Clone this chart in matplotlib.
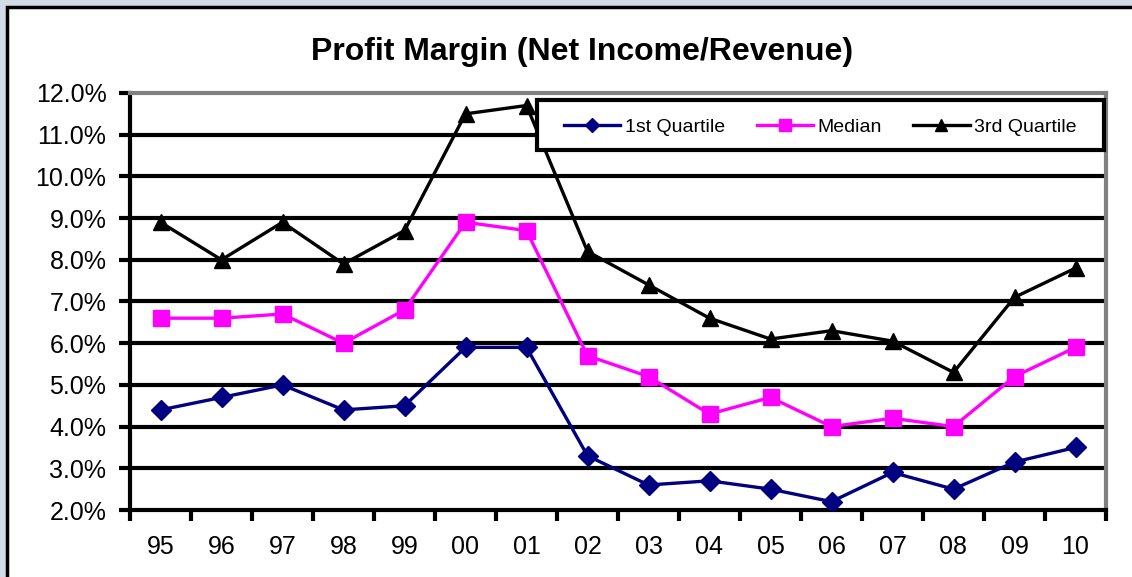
import matplotlib
matplotlib.use("Agg")
import matplotlib.pyplot as plt
from matplotlib.patches import Rectangle
from matplotlib.ticker import FuncFormatter, MultipleLocator
import numpy as np

years = ["95", "96", "97", "98", "99", "00", "01", "02", "03", "04", "05", "06", "07", "08", "09", "10"]
q1 = [4.4, 4.7, 5.0, 4.4, 4.5, 5.9, 5.9, 3.3, 2.6, 2.7, 2.5, 2.2, 2.9, 2.5, 3.15, 3.5]
median = [6.6, 6.6, 6.7, 6.0, 6.8, 8.9, 8.7, 5.7, 5.2, 4.3, 4.7, 4.0, 4.2, 4.0, 5.2, 5.9]
q3 = [8.9, 8.0, 8.9, 7.9, 8.7, 11.5, 11.7, 8.2, 7.4, 6.6, 6.1, 6.3, 6.05, 5.3, 7.1, 7.8]

plt.rcParams['font.family'] = ['Liberation Sans', 'DejaVu Sans']

W, H = 1132, 577
fig = plt.figure(figsize=(W / 100, H / 100), dpi=100)
fig.patch.set_facecolor('white')

# Spreadsheet background strip and chart frame
fig.patches.append(Rectangle((0, 0), 1, 1, transform=fig.transFigure, facecolor='#d3dbe6', edgecolor='none', zorder=-10))
fig.patches.append(Rectangle((7 / W, -0.1), 1.2, 1 - 7 / H + 0.1, transform=fig.transFigure,
                             facecolor='white', edgecolor='black', linewidth=2.5, zorder=-9))

left, right, top, bottom = 130, 1106, 93, 510
ax = fig.add_axes([left / W, 1 - bottom / H, (right - left) / W, (bottom - top) / H])

x = np.arange(len(years))
ax.plot(x, q1, color='#000080', marker='D', markersize=10.5, linewidth=2.4, label='1st Quartile', zorder=3)
ax.plot(x, median, color='#ff00ff', marker='s', markersize=12, linewidth=2.4, label='Median', zorder=3)
ax.plot(x, q3, color='black', marker='^', markersize=12, linewidth=2.4, label='3rd Quartile', zorder=3)

ax.set_xlim(-0.5, len(years) - 0.5)
ax.set_ylim(2, 12)
ax.yaxis.set_major_locator(MultipleLocator(1))
ax.yaxis.set_major_formatter(FuncFormatter(lambda v, p: f"{v:.1f}%"))
ax.set_xticks(np.arange(-0.5, len(years) - 0.4, 1))
ax.set_xticklabels([])
ax.set_xticks(x, minor=True)
ax.set_xticklabels(years, minor=True)
ax.tick_params(axis='x', which='minor', length=0, pad=18, labelsize=18)
ax.tick_params(axis='x', which='major', length=8, width=3, direction='out', color='black')
ax.tick_params(axis='y', length=8, width=3, direction='out', labelsize=18, pad=9)

for v in range(3, 12):
    ax.axhline(v, color='black', linewidth=3, zorder=1)

ax.spines['left'].set_linewidth(3)
ax.spines['left'].set_color('black')
ax.spines['bottom'].set_linewidth(3)
ax.spines['bottom'].set_color('black')
ax.spines['top'].set_linewidth(3)
ax.spines['top'].set_color('#808080')
ax.spines['right'].set_linewidth(3)
ax.spines['right'].set_color('#808080')

# Legend frame drawn at its own place, legend entries inside it
leg_x0, leg_x1, leg_y0, leg_y1 = 537, 1104, 100, 150
fig.patches.append(Rectangle((leg_x0 / W, 1 - leg_y1 / H), (leg_x1 - leg_x0) / W, (leg_y1 - leg_y0) / H,
                             transform=fig.transFigure, facecolor='white', edgecolor='black',
                             linewidth=3, zorder=4))
handles, labels = ax.get_legend_handles_labels()
leg = fig.legend(handles, labels, loc='center',
                 bbox_to_anchor=((leg_x0 + leg_x1) / 2 / W, 1 - ((leg_y0 + leg_y1) / 2 + 2) / H),
                 ncol=3, frameon=False, prop={'size': 14}, handlelength=2.9, columnspacing=1.6,
                 handletextpad=0.25, borderpad=0, borderaxespad=0, markerscale=0.7)
leg.set_zorder(6)

fig.text(582 / W, 1 - 52 / H, 'Profit Margin (Net Income/Revenue)',
         ha='center', va='center', fontsize=23, fontweight='bold')

fig.savefig('out.png', dpi=100)
